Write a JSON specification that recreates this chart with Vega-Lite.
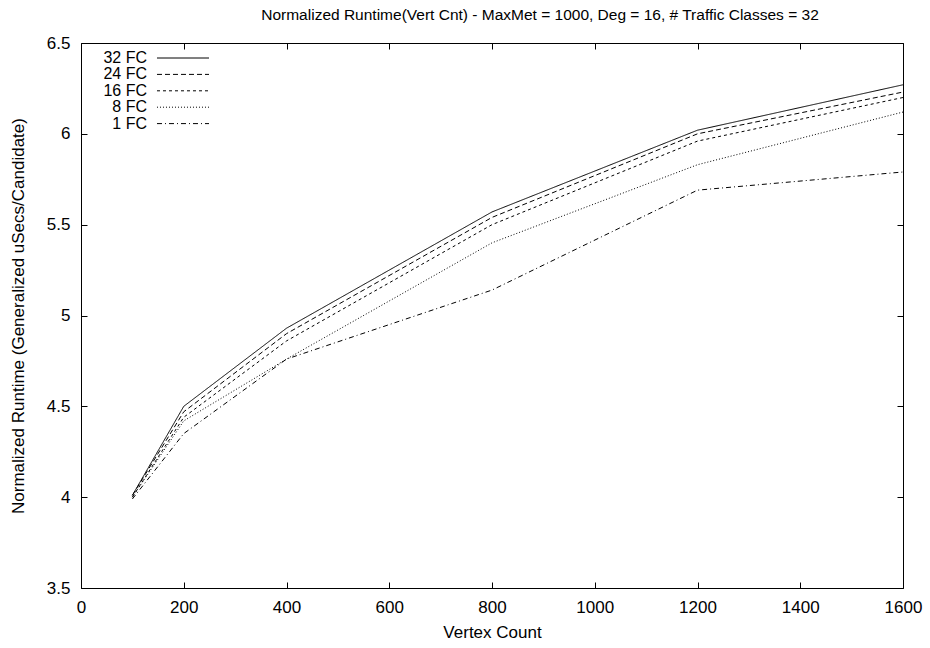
{
  "$schema": "https://vega.github.io/schema/vega-lite/v6.json",
  "width": 822,
  "height": 545,
  "autosize": {"type": "none"},
  "padding": {"left": 81, "top": 43, "right": 27, "bottom": 60},
  "background": "white",
  "title": {
    "text": "Normalized Runtime(Vert Cnt) - MaxMet = 1000, Deg = 16, # Traffic Classes = 32",
    "font": "Liberation Sans",
    "fontSize": 15.5,
    "fontWeight": "normal",
    "color": "black",
    "offset": 11,
    "dx": 48
  },
  "config": {
    "view": {"stroke": "black", "strokeWidth": 1},
    "axis": {
      "labelFont": "Liberation Sans",
      "titleFont": "Liberation Sans",
      "labelFontSize": 17,
      "titleFontSize": 17,
      "titleFontWeight": "normal",
      "labelColor": "black",
      "titleColor": "black",
      "grid": false,
      "domain": false,
      "tickColor": "black",
      "tickSize": -6,
      "labelFlush": false
    }
  },
  "data": {
    "values": [
      {"v": 100, "r": 4.01, "s": "32 FC"},
      {"v": 200, "r": 4.50, "s": "32 FC"},
      {"v": 400, "r": 4.93, "s": "32 FC"},
      {"v": 800, "r": 5.57, "s": "32 FC"},
      {"v": 1200, "r": 6.02, "s": "32 FC"},
      {"v": 1600, "r": 6.27, "s": "32 FC"},
      {"v": 100, "r": 4.01, "s": "24 FC"},
      {"v": 200, "r": 4.47, "s": "24 FC"},
      {"v": 400, "r": 4.90, "s": "24 FC"},
      {"v": 800, "r": 5.54, "s": "24 FC"},
      {"v": 1200, "r": 6.00, "s": "24 FC"},
      {"v": 1600, "r": 6.23, "s": "24 FC"},
      {"v": 100, "r": 4.00, "s": "16 FC"},
      {"v": 200, "r": 4.44, "s": "16 FC"},
      {"v": 400, "r": 4.86, "s": "16 FC"},
      {"v": 800, "r": 5.50, "s": "16 FC"},
      {"v": 1200, "r": 5.96, "s": "16 FC"},
      {"v": 1600, "r": 6.20, "s": "16 FC"},
      {"v": 100, "r": 4.00, "s": "8 FC"},
      {"v": 200, "r": 4.42, "s": "8 FC"},
      {"v": 400, "r": 4.76, "s": "8 FC"},
      {"v": 800, "r": 5.40, "s": "8 FC"},
      {"v": 1200, "r": 5.83, "s": "8 FC"},
      {"v": 1600, "r": 6.12, "s": "8 FC"},
      {"v": 100, "r": 3.99, "s": "1 FC"},
      {"v": 200, "r": 4.35, "s": "1 FC"},
      {"v": 400, "r": 4.76, "s": "1 FC"},
      {"v": 800, "r": 5.14, "s": "1 FC"},
      {"v": 1200, "r": 5.69, "s": "1 FC"},
      {"v": 1600, "r": 5.79, "s": "1 FC"}
    ]
  },
  "layer": [
    {
      "mark": {"type": "line", "color": "black", "strokeWidth": 1, "clip": true},
      "encoding": {
        "x": {
          "field": "v", "type": "quantitative",
          "scale": {"domain": [0, 1600], "nice": false, "zero": false},
          "axis": {"orient": "bottom", "title": "Vertex Count", "values": [0, 200, 400, 600, 800, 1000, 1200, 1400, 1600], "format": "d", "labelPadding": 17, "titlePadding": 9}
        },
        "y": {
          "field": "r", "type": "quantitative",
          "scale": {"domain": [3.5, 6.5], "nice": false, "zero": false},
          "axis": {"orient": "left", "title": "Normalized Runtime (Generalized uSecs/Candidate)", "values": [3.5, 4, 4.5, 5, 5.5, 6, 6.5], "format": "~g", "labelPadding": 17, "titlePadding": 19}
        },
        "strokeDash": {
          "field": "s", "type": "nominal",
          "scale": {
            "domain": ["32 FC", "24 FC", "16 FC", "8 FC", "1 FC"],
            "range": [[1, 0], [5, 3], [3, 3], [1, 2], [5, 3, 1, 3]]
          },
          "legend": {
            "title": null,
            "orient": "none",
            "legendX": 94,
            "legendY": 7,
            "symbolType": "M-3.467,0H3.467",
            "symbolSize": 225,
            "symbolStrokeColor": "black",
            "symbolFillColor": "transparent",
            "symbolStrokeWidth": 1,
            "labelFont": "Liberation Sans",
            "labelFontSize": 16,
            "labelColor": "black",
            "labelAlign": "right",
            "labelOffset": -44,
            "rowPadding": 0.4
          }
        }
      }
    },
    {
      "mark": {"type": "line", "opacity": 0},
      "encoding": {
        "x": {"field": "v", "type": "quantitative", "axis": {"orient": "top", "title": null, "labels": false, "values": [0, 200, 400, 600, 800, 1000, 1200, 1400, 1600]}},
        "y": {"field": "r", "type": "quantitative", "axis": {"orient": "right", "title": null, "labels": false, "values": [3.5, 4, 4.5, 5, 5.5, 6, 6.5]}},
        "detail": {"field": "s"}
      }
    }
  ],
  "resolve": {"axis": {"x": "independent", "y": "independent"}}
}
